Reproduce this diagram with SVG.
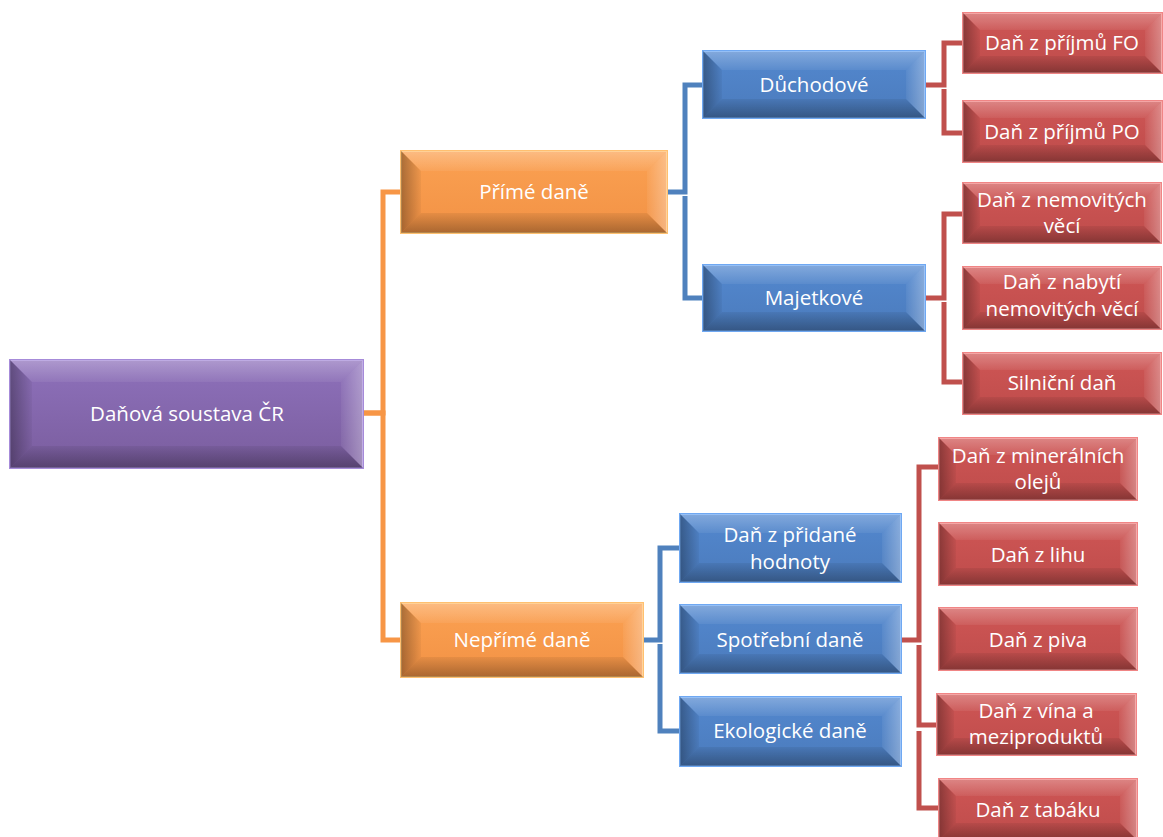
<svg xmlns="http://www.w3.org/2000/svg" width="1163" height="837" viewBox="0 0 1163 837">
<defs>
<linearGradient id="fp" x1="0" y1="0" x2="0" y2="1"><stop offset="0" stop-color="#8E71BB"/><stop offset="1" stop-color="#7A5D9E"/></linearGradient>
<linearGradient id="fo" x1="0" y1="0" x2="0" y2="1"><stop offset="0" stop-color="#FBA152"/><stop offset="1" stop-color="#F29245"/></linearGradient>
<linearGradient id="fb" x1="0" y1="0" x2="0" y2="1"><stop offset="0" stop-color="#5388CF"/><stop offset="1" stop-color="#4B7BBC"/></linearGradient>
<linearGradient id="fr" x1="0" y1="0" x2="0" y2="1"><stop offset="0" stop-color="#CF5655"/><stop offset="1" stop-color="#BE4C4B"/></linearGradient>
<linearGradient id="gl" x1="0" y1="0" x2="1" y2="0"><stop offset="0" stop-color="#000" stop-opacity="0.32"/><stop offset="1" stop-color="#000" stop-opacity="0.04"/></linearGradient>
<linearGradient id="gr" x1="0" y1="0" x2="1" y2="0"><stop offset="0" stop-color="#fff" stop-opacity="0.05"/><stop offset="1" stop-color="#fff" stop-opacity="0.32"/></linearGradient>
<linearGradient id="gt" x1="0" y1="0" x2="0" y2="1"><stop offset="0" stop-color="#fff" stop-opacity="0.28"/><stop offset="1" stop-color="#fff" stop-opacity="0.06"/></linearGradient>
<linearGradient id="gb" x1="0" y1="0" x2="0" y2="1"><stop offset="0" stop-color="#000" stop-opacity="0.06"/><stop offset="1" stop-color="#000" stop-opacity="0.3"/></linearGradient>
</defs>
<style>
.p{fill:url(#fp);stroke:#A68BD9;stroke-width:2}
.o{fill:url(#fo);stroke:#FFC070;stroke-width:2}
.b{fill:url(#fb);stroke:#6FA8F2;stroke-width:2}
.r{fill:url(#fr);stroke:#F08585;stroke-width:2}
.bt{fill:url(#gt)}
.br{fill:url(#gr)}
.bb{fill:url(#gb)}
.bl{fill:url(#gl)}
.t{font-family:"Open Sans","Liberation Sans",sans-serif;font-size:20.5px;fill:#fff;text-anchor:middle}
.c{fill:none;stroke-width:5;stroke-linejoin:miter}
.co{stroke:#F79646}
.cb{stroke:#4F81BD}
.cr{stroke:#C0504D}
</style>
<g id="connectors">
<path class="c co" d="M363,413 H383 V192 H401"/>
<path class="c co" d="M363,413 H383 V640 H401"/>
<path class="c cb" d="M667,192 H685 V85 H703"/>
<path class="c cb" d="M685,196 V298 H703"/>
<path class="c cb" d="M643,640 H660 V548 H680"/>
<path class="c cb" d="M660,644 V731 H680"/>
<path class="c cr" d="M925,85 H944 V43 H963"/>
<path class="c cr" d="M944,89 V133 H963"/>
<path class="c cr" d="M925,298 H944 V214 H963"/>
<path class="c cr" d="M944,302 V382 H963"/>
<path class="c cr" d="M901,640 H919 V467 H939"/>
<path class="c cr" d="M919,645 V725 H937"/>
<path class="c cr" d="M919,731 V808 H939"/>
</g>
<g id="root">
<rect class="p" x="10" y="360" width="353" height="108"/>
<polygon class="bt" points="10,360 363,360 341,382 32,382"/>
<polygon class="br" points="363,360 363,468 341,446 341,382"/>
<polygon class="bb" points="10,468 363,468 341,446 32,446"/>
<polygon class="bl" points="10,360 10,468 32,446 32,382"/>
<text class="t" x="187" y="421">Daňová soustava ČR</text>
</g>
<g id="prime">
<rect class="o" x="401" y="151" width="266" height="82"/>
<polygon class="bt" points="401,151 667,151 647,171 421,171"/>
<polygon class="br" points="667,151 667,233 647,213 647,171"/>
<polygon class="bb" points="401,233 667,233 647,213 421,213"/>
<polygon class="bl" points="401,151 401,233 421,213 421,171"/>
<text class="t" x="534" y="199">Přímé daně</text>
</g>
<g id="neprime">
<rect class="o" x="401" y="603" width="242" height="74"/>
<polygon class="bt" points="401,603 643,603 623,623 421,623"/>
<polygon class="br" points="643,603 643,677 623,657 623,623"/>
<polygon class="bb" points="401,677 643,677 623,657 421,657"/>
<polygon class="bl" points="401,603 401,677 421,657 421,623"/>
<text class="t" x="522" y="647">Nepřímé daně</text>
</g>
<g id="duchodove">
<rect class="b" x="703" y="51" width="222" height="67"/>
<polygon class="bt" points="703,51 925,51 906,70 722,70"/>
<polygon class="br" points="925,51 925,118 906,99 906,70"/>
<polygon class="bb" points="703,118 925,118 906,99 722,99"/>
<polygon class="bl" points="703,51 703,118 722,99 722,70"/>
<text class="t" x="814" y="92">Důchodové</text>
</g>
<g id="majetkove">
<rect class="b" x="703" y="265" width="222" height="66"/>
<polygon class="bt" points="703,265 925,265 906,284 722,284"/>
<polygon class="br" points="925,265 925,331 906,312 906,284"/>
<polygon class="bb" points="703,331 925,331 906,312 722,312"/>
<polygon class="bl" points="703,265 703,331 722,312 722,284"/>
<text class="t" x="814" y="305">Majetkové</text>
</g>
<g id="dph">
<rect class="b" x="680" y="514" width="221" height="68"/>
<polygon class="bt" points="680,514 901,514 882,533 699,533"/>
<polygon class="br" points="901,514 901,582 882,563 882,533"/>
<polygon class="bb" points="680,582 901,582 882,563 699,563"/>
<polygon class="bl" points="680,514 680,582 699,563 699,533"/>
<text class="t" x="790" y="542">Daň z přidané</text>
<text class="t" x="790" y="569">hodnoty</text>
</g>
<g id="spotrebni">
<rect class="b" x="680" y="605" width="221" height="68"/>
<polygon class="bt" points="680,605 901,605 882,624 699,624"/>
<polygon class="br" points="901,605 901,673 882,654 882,624"/>
<polygon class="bb" points="680,673 901,673 882,654 699,654"/>
<polygon class="bl" points="680,605 680,673 699,654 699,624"/>
<text class="t" x="790" y="647">Spotřební daně</text>
</g>
<g id="ekologicke">
<rect class="b" x="680" y="697" width="221" height="69"/>
<polygon class="bt" points="680,697 901,697 882,716 699,716"/>
<polygon class="br" points="901,697 901,766 882,747 882,716"/>
<polygon class="bb" points="680,766 901,766 882,747 699,747"/>
<polygon class="bl" points="680,697 680,766 699,747 699,716"/>
<text class="t" x="790" y="738">Ekologické daně</text>
</g>
<g id="fo">
<rect class="r" x="963" y="13" width="199" height="60"/>
<polygon class="bt" points="963,13 1162,13 1145,30 980,30"/>
<polygon class="br" points="1162,13 1162,73 1145,56 1145,30"/>
<polygon class="bb" points="963,73 1162,73 1145,56 980,56"/>
<polygon class="bl" points="963,13 963,73 980,56 980,30"/>
<text class="t" x="1062" y="50">Daň z příjmů FO</text>
</g>
<g id="po">
<rect class="r" x="963" y="101" width="199" height="61"/>
<polygon class="bt" points="963,101 1162,101 1145,118 980,118"/>
<polygon class="br" points="1162,101 1162,162 1145,145 1145,118"/>
<polygon class="bb" points="963,162 1162,162 1145,145 980,145"/>
<polygon class="bl" points="963,101 963,162 980,145 980,118"/>
<text class="t" x="1062" y="139">Daň z příjmů PO</text>
</g>
<g id="nemovite">
<rect class="r" x="963" y="183" width="198" height="60"/>
<polygon class="bt" points="963,183 1161,183 1144,200 980,200"/>
<polygon class="br" points="1161,183 1161,243 1144,226 1144,200"/>
<polygon class="bb" points="963,243 1161,243 1144,226 980,226"/>
<polygon class="bl" points="963,183 963,243 980,226 980,200"/>
<text class="t" x="1062" y="207">Daň z nemovitých</text>
<text class="t" x="1062" y="233">věcí</text>
</g>
<g id="nabyti">
<rect class="r" x="963" y="267" width="198" height="62"/>
<polygon class="bt" points="963,267 1161,267 1144,284 980,284"/>
<polygon class="br" points="1161,267 1161,329 1144,312 1144,284"/>
<polygon class="bb" points="963,329 1161,329 1144,312 980,312"/>
<polygon class="bl" points="963,267 963,329 980,312 980,284"/>
<text class="t" x="1062" y="289">Daň z nabytí</text>
<text class="t" x="1062" y="316">nemovitých věcí</text>
</g>
<g id="silnicni">
<rect class="r" x="963" y="353" width="198" height="61"/>
<polygon class="bt" points="963,353 1161,353 1144,370 980,370"/>
<polygon class="br" points="1161,353 1161,414 1144,397 1144,370"/>
<polygon class="bb" points="963,414 1161,414 1144,397 980,397"/>
<polygon class="bl" points="963,353 963,414 980,397 980,370"/>
<text class="t" x="1062" y="390">Silniční daň</text>
</g>
<g id="mineralni">
<rect class="r" x="939" y="438" width="198" height="62"/>
<polygon class="bt" points="939,438 1137,438 1120,455 956,455"/>
<polygon class="br" points="1137,438 1137,500 1120,483 1120,455"/>
<polygon class="bb" points="939,500 1137,500 1120,483 956,483"/>
<polygon class="bl" points="939,438 939,500 956,483 956,455"/>
<text class="t" x="1038" y="463">Daň z minerálních</text>
<text class="t" x="1038" y="489">olejů</text>
</g>
<g id="lih">
<rect class="r" x="939" y="523" width="198" height="62"/>
<polygon class="bt" points="939,523 1137,523 1120,540 956,540"/>
<polygon class="br" points="1137,523 1137,585 1120,568 1120,540"/>
<polygon class="bb" points="939,585 1137,585 1120,568 956,568"/>
<polygon class="bl" points="939,523 939,585 956,568 956,540"/>
<text class="t" x="1038" y="562">Daň z lihu</text>
</g>
<g id="pivo">
<rect class="r" x="939" y="608" width="198" height="62"/>
<polygon class="bt" points="939,608 1137,608 1120,625 956,625"/>
<polygon class="br" points="1137,608 1137,670 1120,653 1120,625"/>
<polygon class="bb" points="939,670 1137,670 1120,653 956,653"/>
<polygon class="bl" points="939,608 939,670 956,653 956,625"/>
<text class="t" x="1038" y="647">Daň z piva</text>
</g>
<g id="vino">
<rect class="r" x="937" y="694" width="199" height="61"/>
<polygon class="bt" points="937,694 1136,694 1119,711 954,711"/>
<polygon class="br" points="1136,694 1136,755 1119,738 1119,711"/>
<polygon class="bb" points="937,755 1136,755 1119,738 954,738"/>
<polygon class="bl" points="937,694 937,755 954,738 954,711"/>
<text class="t" x="1036" y="718">Daň z vína a</text>
<text class="t" x="1036" y="744">meziproduktů</text>
</g>
<g id="tabak">
<rect class="r" x="939" y="779" width="198" height="61"/>
<polygon class="bt" points="939,779 1137,779 1120,796 956,796"/>
<polygon class="br" points="1137,779 1137,840 1120,823 1120,796"/>
<polygon class="bb" points="939,840 1137,840 1120,823 956,823"/>
<polygon class="bl" points="939,779 939,840 956,823 956,796"/>
<text class="t" x="1038" y="817">Daň z tabáku</text>
</g>
</svg>
